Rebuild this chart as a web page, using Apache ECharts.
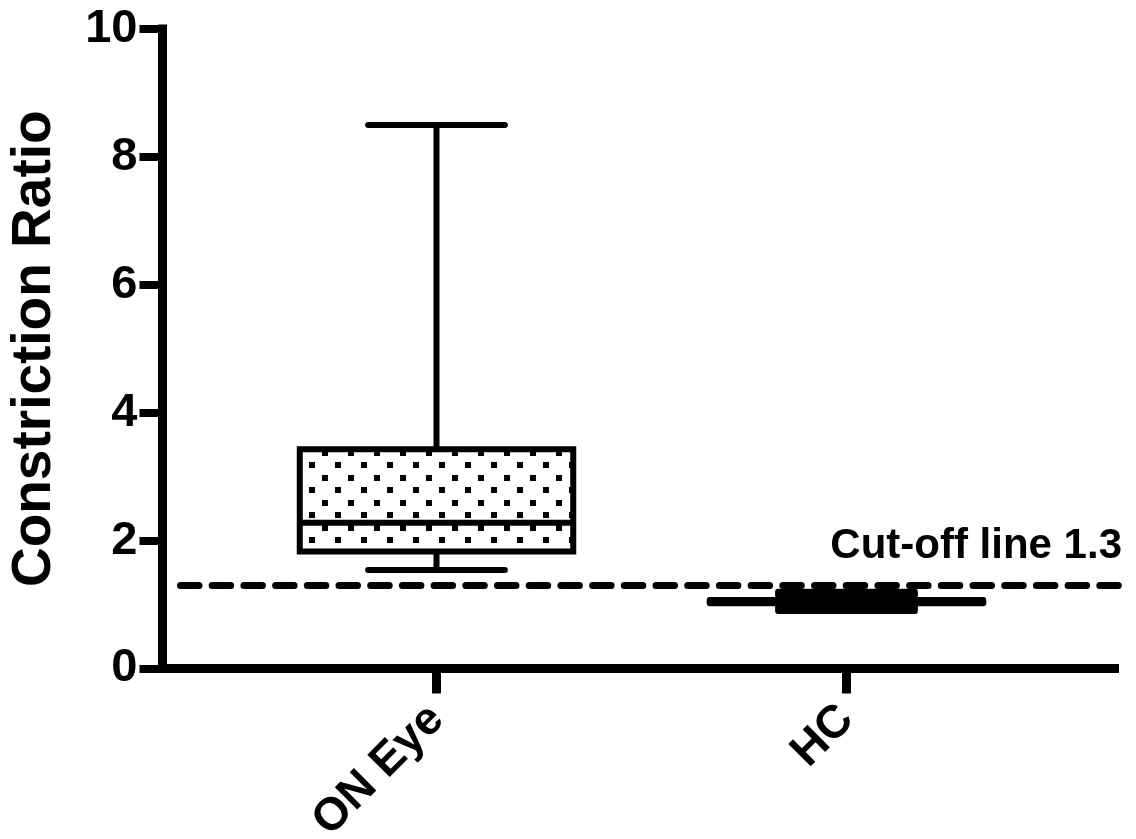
<!DOCTYPE html>
<html>
<head>
<meta charset="utf-8">
<script src="https://cdn.jsdelivr.net/npm/echarts@6/dist/echarts.min.js"></script>
<style>
html,body{margin:0;padding:0;background:#fff;}
#chart{width:1136px;height:839px;}
</style>
</head>
<body>
<div id="chart"></div>
<script>
// ---- data ----
const categories = ['ON Eye', 'HC'];
// [min, Q1, median, Q3, max]
const onEyeStats = [1.54, 1.83, 2.28, 3.43, 8.50];
const hcStats = [0.90, 1.02, 1.04, 1.07, 1.20];
const cutoffValue = 1.3;
const cutoffLabel = 'Cut-off line 1.3';
const yAxisTitle = 'Constriction Ratio';
const yMin = 0, yMax = 10, yStep = 2;

// ---- styling helpers ----
const FONT = '"Liberation Sans", Arial, Helvetica, sans-serif';

function makeDotPattern() {
  const c = document.createElement('canvas');
  c.width = 26; c.height = 25;
  const ctx = c.getContext('2d');
  ctx.fillStyle = '#fff';
  ctx.fillRect(0, 0, 26, 25);
  ctx.fillStyle = '#000';
  ctx.fillRect(10, 0, 6, 6);
  ctx.fillRect(-3, 12, 6, 6);
  ctx.fillRect(23, 12, 6, 6);
  return { type: 'pattern', image: c, repeat: 'repeat' };
}
const dotPattern = makeDotPattern();

function makeRenderer(mode) {
  return function (params, api) {
    const cat = api.value(0);
    const vMin = api.value(1), q1 = api.value(2), med = api.value(3), q3 = api.value(4), vMax = api.value(5);
    const band = api.size([1, 0])[0];
    const boxW = band * 0.667;
    const capW = boxW * 0.5;
    const cx = api.coord([cat, 0])[0];
    const y = v => api.coord([cat, v])[1];
    const lw = 6;
    const stroke = { stroke: '#000', lineWidth: lw, lineCap: 'round', fill: null };
    const children = [];
    if (mode === 'dotted') {
      children.push({ type: 'line', shape: { x1: cx, y1: y(vMax), x2: cx, y2: y(q3) }, style: stroke });
      children.push({ type: 'line', shape: { x1: cx, y1: y(q1), x2: cx, y2: y(vMin) }, style: stroke });
      children.push({ type: 'line', shape: { x1: cx - capW / 2, y1: y(vMax), x2: cx + capW / 2, y2: y(vMax) }, style: stroke });
      children.push({ type: 'line', shape: { x1: cx - capW / 2, y1: y(vMin), x2: cx + capW / 2, y2: y(vMin) }, style: stroke });
      children.push({ type: 'rect', shape: { x: cx - boxW / 2, y: y(q3), width: boxW, height: y(q1) - y(q3) },
        style: { fill: dotPattern, stroke: '#000', lineWidth: lw, lineJoin: 'miter' } });
      children.push({ type: 'line', shape: { x1: cx - boxW / 2, y1: y(med), x2: cx + boxW / 2, y2: y(med) },
        style: { stroke: '#000', lineWidth: lw, lineCap: 'butt' } });
    } else {
      children.push({ type: 'rect', shape: { x: cx - capW / 2, y: y(vMax), width: capW, height: y(vMin) - y(vMax) },
        style: { fill: '#000', stroke: '#000', lineWidth: lw, lineJoin: 'round' } });
      children.push({ type: 'rect', shape: { x: cx - boxW / 2, y: y(q3), width: boxW, height: Math.max(0.5, y(q1) - y(q3)) },
        style: { fill: '#000', stroke: '#000', lineWidth: lw, lineJoin: 'round' } });
      children.push({ type: 'line', shape: { x1: cx - boxW / 2, y1: y(med), x2: cx + boxW / 2, y2: y(med) },
        style: { stroke: '#000', lineWidth: lw, lineCap: 'round' } });
    }
    return { type: 'group', children: children };
  };
}

const chart = echarts.init(document.getElementById('chart'), null, { renderer: 'canvas' });

const gridTop = 29, gridBottom = 839 - 668.5;

chart.setOption({
  backgroundColor: '#fff',
  animation: false,
  grid: [
    // 0: frame axes
    { left: 162.5, right: 21.5, top: gridTop, bottom: gridBottom, containLabel: false, outerBoundsMode: 'none' },
    // 1: categories
    { left: 231.5, right: 84.5, top: gridTop, bottom: gridBottom, containLabel: false, outerBoundsMode: 'none' },
    // 2: cut-off line
    { left: 180.5, right: 11, top: gridTop, bottom: gridBottom, containLabel: false, outerBoundsMode: 'none' }
  ],
  xAxis: [
    { gridIndex: 0, type: 'value', min: 0, max: 1,
      axisLine: { show: true, lineStyle: { color: '#000', width: 9, cap: 'square' } },
      axisTick: { show: false }, axisLabel: { show: false }, splitLine: { show: false } },
    { gridIndex: 1, type: 'category', data: categories, boundaryGap: true,
      axisLine: { show: false },
      axisTick: { show: true, alignWithLabel: true, length: 25, lineStyle: { color: '#000', width: 9 } },
      axisLabel: { show: true, interval: 0, rotate: 45, margin: 44, color: '#000',
        fontFamily: FONT, fontWeight: 'bold', fontSize: 46 },
      splitLine: { show: false } },
    { gridIndex: 2, type: 'value', min: 0, max: 1, show: false }
  ],
  yAxis: [
    { gridIndex: 0, type: 'value', min: yMin, max: yMax, interval: yStep,
      name: yAxisTitle, nameLocation: 'middle', nameGap: 100, nameRotate: 90,
      nameTextStyle: { color: '#000', fontFamily: FONT, fontWeight: 'bold', fontSize: 55 },
      axisLine: { show: true, lineStyle: { color: '#000', width: 9, cap: 'square' } },
      axisTick: { show: true, length: 23, lineStyle: { color: '#000', width: 8 } },
      axisLabel: { show: true, margin: 25, color: '#000', fontFamily: FONT, fontWeight: 'bold', fontSize: 47 },
      splitLine: { show: false } },
    { gridIndex: 1, type: 'value', min: yMin, max: yMax, show: false },
    { gridIndex: 2, type: 'value', min: yMin, max: yMax, show: false }
  ],
  series: [
    { type: 'custom', xAxisIndex: 1, yAxisIndex: 1, renderItem: makeRenderer('dotted'),
      encode: { x: 0, y: [1, 2, 3, 4, 5] },
      data: [[0].concat(onEyeStats)], z: 3 },
    { type: 'custom', xAxisIndex: 1, yAxisIndex: 1, renderItem: makeRenderer('solid'),
      encode: { x: 0, y: [1, 2, 3, 4, 5] },
      data: [[1].concat(hcStats)], z: 3 },
    { type: 'line', xAxisIndex: 2, yAxisIndex: 2, data: [], silent: true, z: 2,
      markLine: {
        silent: true, symbol: 'none', animation: false,
        lineStyle: { color: '#000', width: 7, type: [18.5, 13.2], cap: 'round' },
        label: { show: true, position: 'insideEndTop', formatter: cutoffLabel, distance: [3, 18],
          color: '#000', fontFamily: FONT, fontWeight: 'bold', fontSize: 42 },
        emphasis: { disabled: true },
        data: [{ yAxis: cutoffValue }]
      } }
  ]
});
</script>
</body>
</html>
